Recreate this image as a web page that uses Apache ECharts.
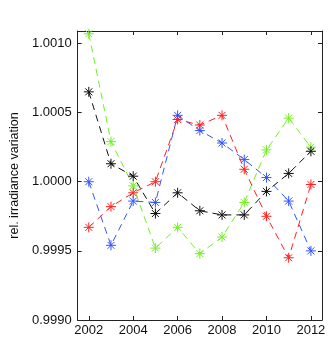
<!DOCTYPE html>
<html>
<head>
<meta charset="utf-8">
<script src="https://cdn.jsdelivr.net/npm/echarts@6/dist/echarts.min.js"></script>
<style>
  html, body { margin: 0; padding: 0; background: #fff; }
  #chart { width: 331px; height: 338px; }
</style>
</head>
<body>
<div id="chart"></div>
<script>
const years = [2002, 2003, 2004, 2005, 2006, 2007, 2008, 2009, 2010, 2011, 2012];
const xTicks = [2002, 2004, 2006, 2008, 2010, 2012];
const yTicks = [0.9990, 0.9995, 1.0000, 1.0005, 1.0010];

const green = [1.00107, 1.00029, 0.99997, 0.99952, 0.99967, 0.99948, 0.99960, 0.99985, 1.00023, 1.00046, 1.00025];
const red   = [0.99967, 0.99982, 0.99992, 1.00000, 1.00045, 1.00041, 1.00048, 1.00009, 0.99975, 0.99945, 0.99998];
const blue  = [1.00000, 0.99954, 0.99986, 0.99985, 1.00048, 1.00037, 1.00028, 1.00016, 1.00003, 0.99986, 0.99950];
const black = [1.00065, 1.00013, 1.00004, 0.99977, 0.99992, 0.99979, 0.99976, 0.99976, 0.99993, 1.00006, 1.00022];

const star = 'path://M0,-1L0,1M-1,0L1,0M-0.7,-0.7L0.7,0.7M-0.7,0.7L0.7,-0.7';
const font = 'Liberation Sans, Arial, sans-serif';

function mkSeries(vals, color) {
  return {
    type: 'line',
    data: years.map((y, i) => [y, vals[i]]),
    symbol: star,
    symbolSize: 10,
    showAllSymbol: true,
    lineStyle: { color: color, width: 1, type: [7, 5] },
    itemStyle: { color: color, borderColor: color, borderWidth: 1 },
    emphasis: { disabled: true },
    animation: false
  };
}

const chart = echarts.init(document.getElementById('chart'));

const axisLine = { show: true, lineStyle: { color: '#222', width: 1 } };
const xBase = {
  type: 'value', min: 2001.5, max: 2012.5,
  axisLine: axisLine,
  splitLine: { show: false },
  axisTick: { inside: true, length: 4, customValues: xTicks, lineStyle: { color: '#222' } }
};
const yBase = {
  type: 'value', min: 0.9990, max: 1.00109,
  axisLine: axisLine,
  splitLine: { show: false },
  axisTick: { inside: true, length: 4, customValues: yTicks, lineStyle: { color: '#222' } }
};

chart.setOption({
  animation: false,
  grid: { left: 69, right: 9, top: 31, bottom: 18 },
  xAxis: [
    Object.assign({}, xBase, {
      position: 'bottom',
      axisLabel: { customValues: xTicks, color: '#111', fontSize: 13, fontFamily: font, margin: 4, formatter: v => String(v) }
    }),
    Object.assign({}, xBase, { position: 'top', axisLabel: { show: false } })
  ],
  yAxis: [
    Object.assign({}, yBase, {
      position: 'left',
      name: 'rel. irradiance variation',
      nameLocation: 'middle',
      nameGap: 52,
      nameTextStyle: { color: '#111', fontSize: 12.5, fontFamily: font },
      axisLabel: { customValues: yTicks, color: '#111', fontSize: 13, fontFamily: font, margin: 6, formatter: v => v.toFixed(4) }
    }),
    Object.assign({}, yBase, { position: 'right', axisLabel: { show: false } })
  ],
  series: [
    mkSeries(green, '#70f020'),
    mkSeries(red, '#ff2020'),
    mkSeries(blue, '#3355ff'),
    mkSeries(black, '#111111')
  ]
});
</script>
</body>
</html>
